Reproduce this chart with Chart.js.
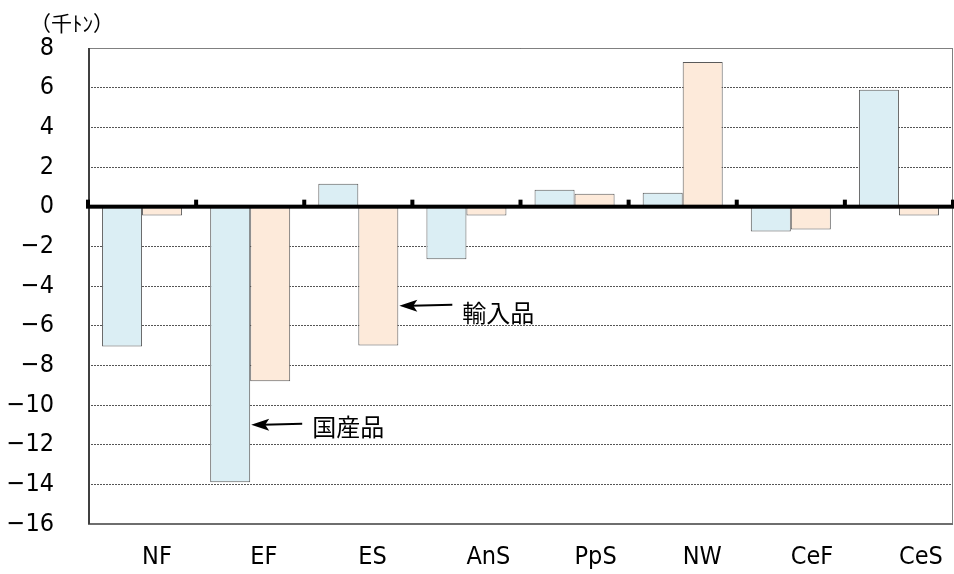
<!DOCTYPE html>
<html><head><meta charset="utf-8">
<script src="https://cdn.jsdelivr.net/npm/chart.js@4"></script>
<style>html,body{margin:0;padding:0;background:#fff}canvas{display:block}</style>
</head><body>
<canvas id="c" width="954" height="574"></canvas>
<script>
const categories = ["NF","EF","ES","AnS","PpS","NW","CeF","CeS"];
const domestic = [-7.05, -13.9, 1.15, -2.65, 0.85, 0.7, -1.25, 5.9];   // 国産品
const imported = [-0.45, -8.8, -7.0, -0.45, 0.65, 7.3, -1.15, -0.45];  // 輸入品
const seriesNames = ["国産品","輸入品"];
const yTicks = {min:-16, max:8, step:2};
const unitLabel = "（千ﾄﾝ）";

const overlay = {
  id:'overlay',
  afterDatasetsDraw(chart){
    const {ctx, chartArea:a, scales:{x,y}} = chart;
    ctx.save();
    // frame
    ctx.strokeStyle='#808080'; ctx.lineWidth=1;
    ctx.beginPath();
    ctx.moveTo(a.left, a.top+0.5); ctx.lineTo(a.right, a.top+0.5);
    ctx.moveTo(a.right-0.5, a.top); ctx.lineTo(a.right-0.5, a.bottom);
    ctx.stroke();
    ctx.strokeStyle='#6e6e6e'; ctx.lineWidth=2;
    ctx.beginPath();
    ctx.moveTo(a.left, a.bottom); ctx.lineTo(a.right, a.bottom);
    ctx.stroke();
    ctx.strokeStyle='#404040'; ctx.lineWidth=2;
    ctx.beginPath();
    ctx.moveTo(a.left+1, a.top); ctx.lineTo(a.left+1, a.bottom);
    ctx.stroke();
    // zero line
    const y0 = y.getPixelForValue(0);
    ctx.fillStyle='#000';
    ctx.fillRect(a.left-2, y0-2, a.right-a.left+4, 4);
    // category boundary tick marks
    const n = categories.length;
    for(let i=0;i<=n;i++){
      const xb = a.left + (a.right-a.left)*i/n;
      ctx.fillRect(xb-2, y0-7, 4, 7);
    }
    // annotations
    const m0 = chart.getDatasetMeta(0), m1 = chart.getDatasetMeta(1);
    function arrow(tipX, tipY, len){
      ctx.strokeStyle='#000'; ctx.lineWidth=2;
      ctx.beginPath(); ctx.moveTo(tipX+12, tipY); ctx.lineTo(tipX+len, tipY-1); ctx.stroke();
      ctx.beginPath(); ctx.moveTo(tipX, tipY); ctx.lineTo(tipX+18, tipY-6); ctx.lineTo(tipX+14, tipY); ctx.lineTo(tipX+18, tipY+6); ctx.closePath(); ctx.fill();
    }
    ctx.fillStyle='#000';
    ctx.font='24px "Noto Sans CJK JP"';
    ctx.textBaseline='middle'; ctx.textAlign='left';
    const b1 = m1.data[2];
    const yA = y.getPixelForValue(-5);
    const xA = b1.x + b1.width/2 + 1;
    arrow(xA, yA, 53);
    ctx.fillText(seriesNames[1], xA+63, yA+7);
    const b0 = m0.data[1];
    const yB = y.getPixelForValue(-11);
    const xB = b0.x + b0.width/2 + 1;
    arrow(xB, yB, 51);
    ctx.fillText(seriesNames[0], xB+61, yB+2);
    // unit label
    ctx.font='21px "Noto Sans CJK JP"';
    ctx.fillText(unitLabel, 30, 23);
    ctx.restore();
  }
};

const axisFont = '"Liberation Sans Narrow", "DejaVu Sans Condensed", "Liberation Sans", Arial';
new Chart(document.getElementById('c'), {
  type:'bar',
  data:{
    labels:categories,
    datasets:[
      {label:seriesNames[0], data:domestic, backgroundColor:'#DBEEF4', borderColor:'#5a5a5a', borderWidth:1, borderSkipped:false},
      {label:seriesNames[1], data:imported, backgroundColor:'#FDEADA', borderColor:'#5a5a5a', borderWidth:1, borderSkipped:false}
    ]
  },
  options:{
    responsive:false, animation:false,
    layout:{padding:{left:0, right:1, top:48, bottom:0}},
    plugins:{legend:{display:false}, tooltip:{enabled:false}},
    datasets:{bar:{categoryPercentage:0.74, barPercentage:1.0}},
    scales:{
      x:{
        grid:{display:false}, border:{display:false},
        ticks:{font:{family:axisFont, size:25}, color:'#000', padding:10, align:'start', maxRotation:0},
        afterFit(s){ s.height = 50; s.paddingLeft = 0; s.paddingRight = 0; }
      },
      y:{
        min:yTicks.min, max:yTicks.max,
        grid:{color:'#555', lineWidth:1, drawTicks:false},
        border:{display:false, dash:[2,1]},
        ticks:{stepSize:yTicks.step, font:{family:axisFont, size:25}, color:'#000', padding:34,
          callback:(v)=> (v<0 ? '\u2212' + Math.abs(v) : String(v))},
        afterFit(s){ s.width = 88; s.paddingTop = 0; s.paddingBottom = 0; }
      }
    }
  },
  plugins:[overlay]
});
</script>
</body></html>
